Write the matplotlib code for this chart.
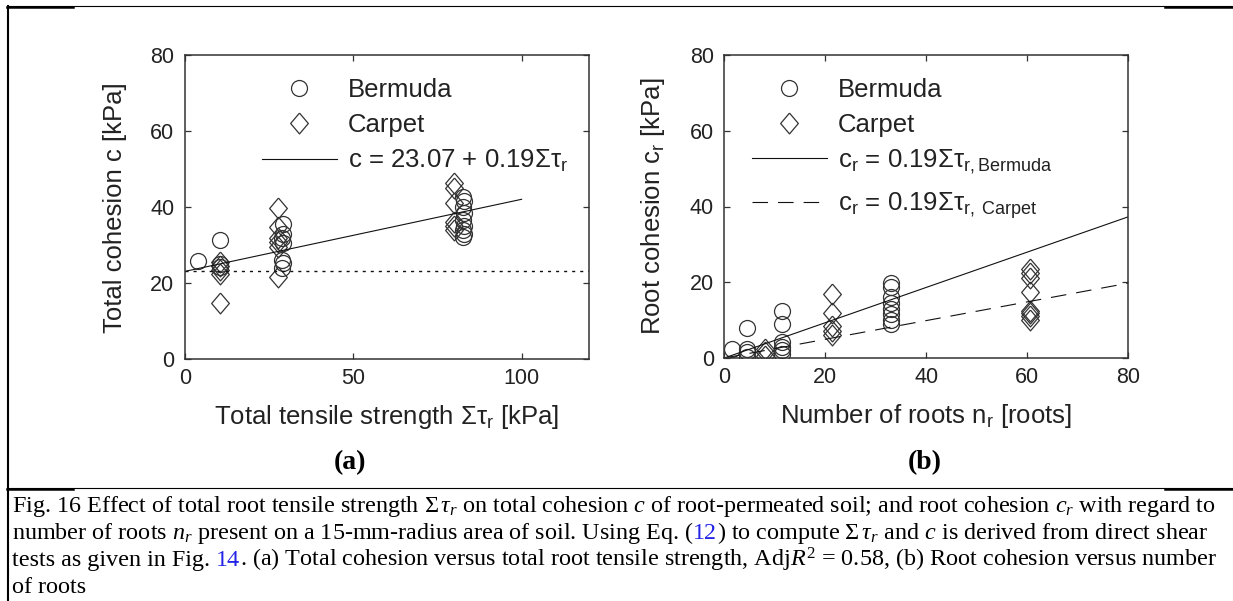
import matplotlib
matplotlib.use("Agg")
import matplotlib.pyplot as plt
from matplotlib.lines import Line2D

# ---- data ----
# (a) total cohesion vs total tensile strength
bermuda_a_x = [4.0, 10.5, 10.5, 10.5, 29.3, 29.3, 29.0, 29.3, 29.0, 29.3, 29.0,
               82.5, 83.0, 82.5, 83.0, 82.5, 83.0, 82.5, 83.0, 82.5]
bermuda_a_y = [25.8, 31.3, 25.0, 24.2, 35.5, 33.0, 32.0, 30.5, 26.0, 25.2, 24.0,
               42.7, 41.5, 40.0, 38.4, 36.7, 35.0, 34.0, 33.0, 32.2]
carpet_a_x = [10.5, 10.5, 10.5, 10.5, 10.5, 27.8, 27.8, 27.8, 27.8, 27.8, 27.8,
              80.0, 80.0, 80.0, 80.0, 80.0, 80.0]
carpet_a_y = [25.5, 24.5, 23.5, 22.5, 14.7, 39.9, 34.8, 31.8, 30.9, 29.6, 21.7,
              46.3, 45.0, 41.0, 36.0, 35.0, 34.0]
fit_a_intercept = 23.07
fit_a_slope = 0.19
fit_a_range = [0, 100]

# (b) root cohesion vs number of roots
bermuda_b_x = [1.5, 4.5, 4.5, 4.5, 4.5, 11.5, 11.5, 11.5, 11.5, 11.5, 11.5,
               33.0, 33.0, 33.0, 33.0, 33.0, 33.0, 33.0, 33.0]
bermuda_b_y = [2.5, 8.0, 2.5, 1.5, 0.3, 12.3, 9.0, 4.3, 3.0, 2.0, 1.0,
               19.7, 18.8, 16.0, 14.5, 13.0, 11.5, 10.0, 9.0]
carpet_b_x = [8.0, 8.0, 8.0, 21.3, 21.3, 21.3, 21.3, 21.3,
              60.5, 60.5, 60.5, 60.5, 60.5, 60.5, 60.5, 60.5]
carpet_b_y = [2.5, 1.5, 0.5, 16.8, 12.0, 8.5, 7.0, 6.0,
              23.5, 22.5, 21.0, 17.5, 12.5, 12.0, 11.0, 10.0]
slope_b_bermuda = 0.466
slope_b_carpet = 0.247
fit_b_range = [0, 80]

plt.rcParams["font.family"] = ["Liberation Sans", "DejaVu Sans"]
plt.rcParams["mathtext.fontset"] = "custom"
plt.rcParams["mathtext.rm"] = "Liberation Serif"
plt.rcParams["mathtext.it"] = "Liberation Serif:italic"

W, H = 1233, 601
fig = plt.figure(figsize=(W / 100, H / 100), dpi=100)

ax_a = fig.add_axes([184.7 / W, 1 - 359 / H, 404.3 / W, 303.7 / H])
ax_b = fig.add_axes([724.3 / W, 1 - 358 / H, 404 / W, 303 / H])

diamond = [(0, 1), (0.85, 0), (0, -1), (-0.85, 0), (0, 1)]
mk_o = dict(ls="none", marker="o", ms=11.5, mfc="none", mec="#333333", mew=0.9)
mk_d = dict(ls="none", marker=diamond, ms=15, mfc="none", mec="#333333", mew=0.9)
txt = "#222222"
leg_kw = dict(bbox_transform=fig.transFigure, frameon=False, borderpad=0, borderaxespad=0,
              handlelength=2.9, handletextpad=0.43, fontsize=18.5, labelcolor=txt, numpoints=1)


def style(ax, xmax, xticks):
    ax.set_xlim(0, xmax)
    ax.set_ylim(0, 80)
    ax.set_xticks(xticks)
    ax.set_yticks([0, 20, 40, 60, 80])
    ax.tick_params(direction="in", top=True, right=True, length=4, width=0.9,
                   color="#333333", labelsize=15.5, labelcolor=txt)
    ax.tick_params(axis="y", pad=7.5)
    ax.tick_params(axis="x", pad=6.5)
    for s in ax.spines.values():
        s.set_linewidth(1.1)
        s.set_color("#333333")


# ---- panel (a) ----
hb, = ax_a.plot(bermuda_a_x, bermuda_a_y, **mk_o)
hc, = ax_a.plot(carpet_a_x, carpet_a_y, **mk_d)
fy = [fit_a_intercept + fit_a_slope * v for v in fit_a_range]
hl, = ax_a.plot(fit_a_range, fy, color="#111111", lw=0.8)
ax_a.axhline(fit_a_intercept, color="#111111", lw=1.0, ls=(0, (2.2, 3.6)))
style(ax_a, 120, [0, 50, 100])
ax_a.set_xlabel("Total tensile strength Στ$\\mathregular{_r}$ [kPa]", fontsize=18.5, color=txt)
ax_a.set_ylabel("Total cohesion c [kPa]", fontsize=18.5, color=txt)
ax_a.xaxis.set_label_coords(0.5, -0.145)
ax_a.yaxis.set_label_coords(-0.143, 0.5)
ax_a.legend([hb, hc, hl], ["Bermuda", "Carpet", "c = 23.07 + 0.19Στ$\\mathregular{_r}$"],
            loc="upper left", bbox_to_anchor=(262 / W, 1 - 78 / H), labelspacing=0.42, **leg_kw)

# ---- panel (b) ----
hb, = ax_b.plot(bermuda_b_x, bermuda_b_y, **mk_o)
hc, = ax_b.plot(carpet_b_x, carpet_b_y, **mk_d)
hl1, = ax_b.plot(fit_b_range, [slope_b_bermuda * v for v in fit_b_range], color="#111111", lw=0.8)
hl2, = ax_b.plot(fit_b_range, [slope_b_carpet * v for v in fit_b_range], color="#111111", lw=0.8,
                 ls=(0, (14, 9)))
style(ax_b, 80, [0, 20, 40, 60, 80])
ax_b.set_xlabel("Number of roots n$\\mathregular{_r}$ [roots]", fontsize=18.5, color=txt)
ax_b.set_ylabel("Root cohesion c$\\mathregular{_r}$ [kPa]", fontsize=18.5, color=txt)
ax_b.xaxis.set_label_coords(0.5, -0.145)
ax_b.yaxis.set_label_coords(-0.142, 0.5)
leg1 = ax_b.legend([hb, hc, hl1],
                   ["Bermuda", "Carpet", "c$\\mathregular{_r}$ = 0.19Στ$\\mathregular{_{r,Bermuda}}$"],
                   loc="upper left", bbox_to_anchor=(752 / W, 1 - 78 / H), labelspacing=0.42, **leg_kw)
ax_b.add_artist(leg1)
ax_b.legend([hl2], ["c$\\mathregular{_r}$ = 0.19Στ$\\mathregular{_{r,\\ Carpet}}$"],
            loc="center left", bbox_to_anchor=(752 / W, 1 - 206 / H), **leg_kw)

# sub-figure tags
fig.text(350 / W, 1 - 463 / H, "(a)", ha="center", va="center", fontsize=20,
         family="Liberation Serif", weight="bold")
fig.text(925 / W, 1 - 463 / H, "(b)", ha="center", va="center", fontsize=20,
         family="Liberation Serif", weight="bold")

# frame lines of the page
def hline(y, x0, x1, lw):
    fig.add_artist(Line2D([x0 / W, x1 / W], [1 - y / H] * 2, color="black", lw=lw,
                          transform=fig.transFigure))

hline(6, 7, W, 0.8)
hline(6.5, 7, 73, 1.8)
hline(6.5, 1165, W, 1.8)
hline(488, 7, W, 0.8)
hline(488.5, 7, 73, 1.8)
hline(488.5, 1165, W, 1.8)
fig.add_artist(Line2D([7.5 / W] * 2, [1 - 6 / H, 0], color="black", lw=1.5,
                      transform=fig.transFigure))

# caption
renderer = fig.canvas.get_renderer()
cap_kw = dict(fontsize=17.4, family="Liberation Serif")
blue = "#2323e6"


def text_width(s):
    t = fig.text(0, 0, s, **cap_kw)
    w = t.get_window_extent(renderer).width
    t.remove()
    return w


def caption_line(y, parts):
    full = ""
    for s, c in parts:
        full += s
        fig.text((12 + text_width(full)) / W, 1 - y / H, s, ha="right", va="baseline",
                 color=c, **cap_kw)


caption_line(512, [("Fig. 16 Effect of total root tensile strength $\\Sigma\\,\\tau_r$ on total cohesion $c$ "
                    "of root-permeated soil; and root cohesion $c_r$ with regard to", "black")])
caption_line(539, [("number of roots $n_r$ present on a 15-mm-radius area of soil. Using Eq. (", "black"),
                   ("12", blue),
                   (") to compute $\\Sigma\\,\\tau_r$ and $c$ is derived from direct shear", "black")])
caption_line(566, [("tests as given in Fig. ", "black"),
                   ("14", blue),
                   (". (a) Total cohesion versus total root tensile strength, Adj$R^2$ = 0.58, "
                    "(b) Root cohesion versus number", "black")])
caption_line(593, [("of roots", "black")])

fig.savefig("out.png", dpi=100)
